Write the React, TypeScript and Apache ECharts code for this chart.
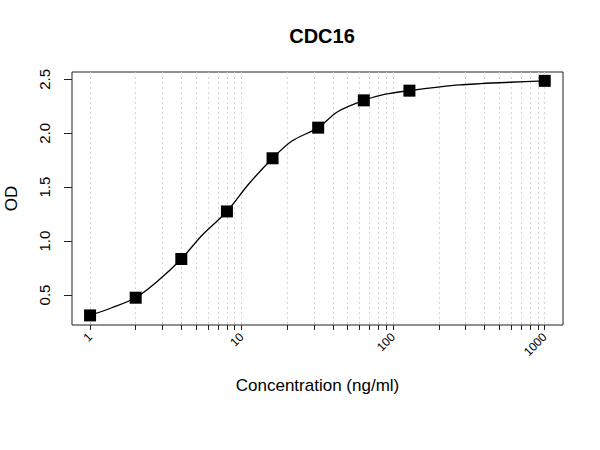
import { useEffect, useRef } from 'react'
import * as echarts from 'echarts'

// Standard curve points
const concentrations = [1, 2, 4, 8, 16, 32, 64, 128, 1000]
const odValues = [0.311, 0.475, 0.834, 1.275, 1.768, 2.052, 2.305, 2.395, 2.486]

// Fitted curve at a few concentrations
const fitConcentrations = [1, 1.39, 2, 2.76, 4, 5.5, 8, 11, 16, 21.6, 32, 43, 64, 87.5, 128, 275, 590, 1000]
const fitOdValues = [0.311, 0.382, 0.475, 0.623, 0.834, 1.057, 1.275, 1.52, 1.768, 1.93, 2.052, 2.2, 2.305, 2.36, 2.395, 2.448, 2.473, 2.486]

// Log axis ticks (minor ticks at every 1..9 of each decade)
const xTickValues = [
  1, 2, 3, 4, 5, 6, 7, 8, 9,
  10, 20, 30, 40, 50, 60, 70, 80, 90,
  100, 200, 300, 400, 500, 600, 700, 800, 900,
  1000,
]
const xLabelValues = [1, 10, 100, 1000]
const yTickValues = [0.5, 1.0, 1.5, 2.0, 2.5]

const FONT = '"Liberation Sans", Arial, sans-serif'

export default function App() {
  const chartRef = useRef<HTMLDivElement>(null)

  useEffect(() => {
    if (!chartRef.current) return

    const chart = echarts.init(chartRef.current, undefined, { renderer: 'svg' })

    const points = concentrations.map((c, i) => [c, odValues[i]])
    const fitPoints = fitConcentrations.map((c, i) => [c, fitOdValues[i]])

    const option = {
      animation: false,
      backgroundColor: '#fff',
      title: {
        text: 'CDC16',
        left: 317,
        top: 21,
        textAlign: 'center',
        textStyle: {
          fontFamily: FONT,
          fontSize: 20,
          fontWeight: 'bold',
          color: '#000'
        }
      },
      grid: {
        left: 72,
        right: 37,
        top: 72,
        bottom: 125,
        outerBoundsMode: 'none',
        containLabel: false,
        show: true,
        borderColor: '#222',
        borderWidth: 1,
        backgroundColor: 'transparent'
      },
      xAxis: {
        type: 'log',
        min: 0.76,
        max: 1320,
        name: 'Concentration (ng/ml)',
        nameLocation: 'middle',
        nameGap: 52,
        nameTextStyle: {
          fontFamily: FONT,
          fontSize: 17,
          color: '#000'
        },
        axisLine: { show: false },
        axisTick: {
          show: true,
          length: 5,
          customValues: xTickValues,
          lineStyle: { color: '#222', width: 1 }
        },
        axisLabel: {
          customValues: xLabelValues,
          rotate: 45,
          margin: 10,
          fontFamily: FONT,
          fontSize: 12,
          color: '#000',
          formatter: (v: number) => String(v)
        },
        splitLine: {
          show: true,
          lineStyle: { color: '#d4d4d4', type: [2, 3], width: 1 }
        },
        minorTick: { show: false },
        minorSplitLine: { show: false }
      },
      yAxis: {
        type: 'value',
        min: 0.222,
        max: 2.568,
        name: 'OD',
        nameLocation: 'middle',
        nameGap: 52,
        nameTextStyle: {
          fontFamily: FONT,
          fontSize: 17,
          color: '#000'
        },
        axisLine: { show: false },
        axisTick: {
          show: true,
          length: 8,
          customValues: yTickValues,
          lineStyle: { color: '#222', width: 1 }
        },
        axisLabel: {
          customValues: yTickValues,
          rotate: 90,
          margin: 20,
          fontFamily: FONT,
          fontSize: 15,
          color: '#000',
          formatter: (v: number) => v.toFixed(1)
        },
        splitLine: { show: false }
      },
      series: [
        {
          name: 'fit',
          type: 'line',
          data: fitPoints,
          smooth: 0.3,
          showSymbol: false,
          symbol: 'none',
          lineStyle: { color: '#000', width: 1.3 },
          z: 2
        },
        {
          name: 'CDC16',
          type: 'scatter',
          data: points,
          symbol: 'rect',
          symbolSize: 12,
          itemStyle: { color: '#000', opacity: 1 },
          z: 3
        }
      ]
    }

    chart.setOption(option)

    const handleResize = () => {
      chart.resize()
    }
    window.addEventListener('resize', handleResize)

    return () => {
      window.removeEventListener('resize', handleResize)
      chart.dispose()
    }
  }, [])

  return (
    <div
      ref={chartRef}
      style={{ position: 'absolute', left: 0, top: 0, width: 600, height: 450 }}
    />
  )
}
